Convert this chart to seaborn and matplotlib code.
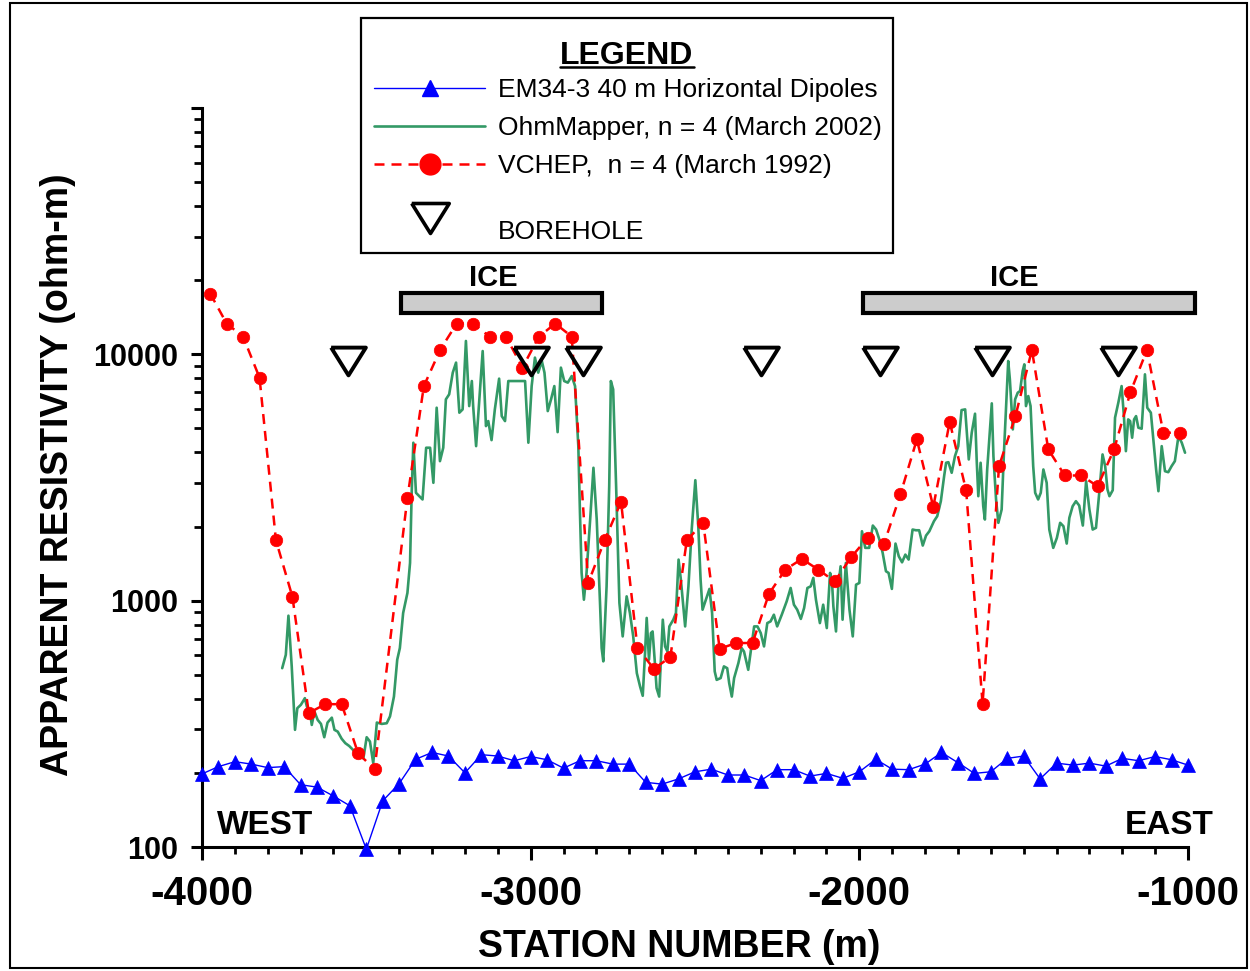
import pandas as pd
import seaborn as sns
import matplotlib.pyplot as plt
import matplotlib.transforms as mtransforms
from matplotlib.lines import Line2D
from matplotlib.patches import Rectangle
from matplotlib.ticker import FixedLocator, LogLocator, MultipleLocator, NullFormatter

# ---- EM34-3 40 m horizontal dipoles
em_station = [-4000, -3950, -3900, -3850, -3800, -3750, -3700, -3650, -3600, -3550,
              -3500, -3450, -3400, -3350, -3300, -3250, -3200, -3150, -3100, -3050,
              -3000, -2950, -2900, -2850, -2800, -2750, -2700, -2650, -2600, -2550,
              -2500, -2450, -2400, -2350, -2300, -2250, -2200, -2150, -2100, -2050,
              -2000, -1950, -1900, -1850, -1800, -1750, -1700, -1650, -1600, -1550,
              -1500, -1450, -1400, -1350, -1300, -1250, -1200, -1150, -1100, -1050, -1000]
em_rho = [198, 212, 222, 217, 210, 212, 179, 175, 161, 147,
          98, 154, 181, 227, 242, 234, 200, 237, 234, 224,
          233, 226, 209, 224, 224, 217, 217, 183, 180, 189,
          202, 207, 196, 196, 186, 206, 206, 194, 199, 190,
          202, 227, 207, 206, 217, 242, 220, 199, 202, 229,
          234, 189, 219, 215, 219, 213, 229, 224, 233, 226, 215]

# ---- OhmMapper, n = 4 (March 2002)
ohm_station = [
    -3756, -3745, -3737, -3727, -3717, -3710, -3699, -3687, -3681, -3671,
    -3666, -3658, -3648, -3638, -3628, -3618, -3605, -3597, -3587, -3575,
    -3564, -3552, -3538, -3524, -3509, -3499, -3489, -3479, -3468, -3453,
    -3438, -3428, -3416, -3406,
    -3398, -3388, -3375, -3367, -3362, -3357, -3349, -3339, -3329, -3318,
    -3306, -3296, -3286, -3276, -3266, -3258, -3248, -3237, -3227, -3217,
    -3207, -3197, -3187, -3179, -3175, -3166, -3156, -3146, -3136, -3129,
    -3119, -3109, -3096, -3088, -3078, -3068, -3017, -3007, -2997, -2987,
    -2977, -2966, -2958, -2948, -2938, -2928, -2918, -2908, -2898, -2887,
    -2875, -2865, -2855, -2850, -2845, -2838, -2830, -2819, -2809, -2799,
    -2789, -2784, -2779, -2769, -2761, -2756, -2749, -2740, -2730, -2720,
    -2708, -2698, -2688, -2677, -2667, -2659, -2652, -2647, -2640, -2634,
    -2629, -2622, -2617, -2609, -2598, -2591, -2584, -2578, -2566, -2558,
    -2550, -2543, -2530, -2520, -2510, -2499, -2490, -2483, -2477, -2467,
    -2456, -2448, -2440, -2434, -2422, -2412, -2402, -2396, -2388, -2381,
    -2368, -2358, -2351, -2338,
    -2320, -2310, -2300, -2290, -2280, -2270, -2260, -2250, -2236, -2221,
    -2209, -2199, -2189, -2178, -2168, -2158, -2148, -2140, -2132, -2120,
    -2110, -2099, -2089, -2083, -2079, -2071, -2064, -2057, -2051, -2041,
    -2030, -2020, -2010, -2000, -1992, -1982, -1970, -1959, -1949, -1939,
    -1929, -1919, -1911, -1901, -1890, -1880, -1870, -1860, -1850, -1838,
    -1828, -1818, -1807, -1797, -1787,
    -1773, -1763, -1752, -1742, -1736, -1729, -1719, -1709, -1699, -1689,
    -1678, -1673, -1667, -1658, -1648, -1643, -1638, -1631, -1623, -1618,
    -1611, -1602, -1597, -1592, -1584, -1577, -1567, -1560, -1552, -1547,
    -1542, -1533, -1526, -1518, -1511, -1503, -1498, -1493, -1486, -1479,
    -1471, -1465, -1456, -1448, -1440, -1430, -1422,
    -1410, -1399, -1389, -1379, -1369, -1361, -1351, -1341, -1331, -1320,
    -1310, -1300, -1290, -1280, -1270, -1260, -1252, -1245, -1239, -1229,
    -1222, -1212, -1202, -1195, -1189, -1182, -1176, -1170, -1164, -1158,
    -1151, -1141, -1131, -1124, -1113, -1103, -1097, -1090, -1080, -1070,
    -1060, -1050, -1040, -1029, -1019, -1009]
ohm_rho = [
    532, 603, 869, 541, 299, 366, 378, 402, 372, 350,
    313, 355, 328, 316, 279, 320, 335, 299, 294, 275,
    264, 257, 246, 239, 229, 279, 268, 219, 320, 316,
    318, 339, 408, 576,
    642, 891, 1075, 1423, 2741, 4377, 2741, 2655, 2575, 4176,
    4176, 3009, 6071, 3684, 4176, 6564, 6877, 8427, 9254, 5794,
    5976, 11330, 6164, 7790, 6164, 4239, 6564, 10310, 5112, 5357,
    4484, 5976, 7966, 5613, 5357, 7790, 7790, 4377, 7431, 9696,
    8427, 9393, 8427, 5883, 6564, 7431, 4832, 8830, 7790, 7674,
    8164, 7431, 4239, 2273, 1296, 1009, 1296, 2135, 3463, 2135,
    979, 642, 567, 1143, 2915, 7790, 7206, 2915, 979, 716,
    1041, 891, 716, 508, 448, 411, 613, 851, 576, 739,
    750, 558, 442, 408, 837, 652, 622, 786, 837, 891,
    1468, 1217, 786, 1143, 1944, 3083, 2005, 1217, 919, 1009,
    1116, 891, 516, 477, 485, 541, 532, 463, 408, 485,
    558, 642, 622, 524,
    786, 786, 739, 652, 811, 824, 877, 786, 877, 994,
    1126, 963, 919, 843, 934, 1126, 1143, 1237, 1009, 811,
    963, 774, 1296, 1180, 948, 750, 1143, 1379, 837, 1423,
    919, 716, 1161, 1180, 1913, 1638, 1638, 2018, 1944, 1770,
    1563, 1316, 1296, 1116, 1705, 1514, 1431, 1538, 1468, 1944,
    1931, 1931, 1674, 1838, 1913,
    2101, 2202, 2534, 3201, 3629, 3649, 3305, 3861, 4239, 5937,
    5976, 4806, 3743, 4806, 5740, 3743, 2655, 3629, 2417, 2135,
    3408, 5112, 6323, 3861, 2575, 2070, 2344, 3986, 6769, 9393,
    7914, 4956, 6564, 6988, 7093, 8554, 9106, 6164, 6769, 6164,
    3515, 2741, 2575, 2741, 3408, 3009, 1944,
    1638, 1798, 2070, 2005, 1705, 2169, 2417, 2534, 2433, 2018,
    3055, 2344, 1944, 1975, 2741, 3923, 3515, 2827, 2655, 2808,
    5530, 6363, 7431, 5613, 4045, 5443, 5357, 4586, 5443, 5613,
    5036, 4989, 8294, 6071, 5794, 4176, 3408, 2782, 4239, 3354,
    3323, 3515, 3684, 4655, 4377, 3986]

# ---- VCHEP, n = 4 (March 1992)
vchep_station = [-3975, -3925, -3875, -3825, -3775, -3725, -3675, -3625, -3575, -3525,
                 -3475, -3375, -3325, -3275, -3225, -3175, -3125, -3075, -3025, -2975,
                 -2925, -2875, -2825, -2775, -2725, -2675, -2625, -2575, -2525, -2475,
                 -2425, -2375, -2325, -2275, -2225, -2175, -2125, -2075, -2025, -1975,
                 -1925, -1875, -1825, -1775, -1725, -1675, -1625, -1575, -1525, -1475,
                 -1425, -1375, -1325, -1275, -1225, -1175, -1125, -1075, -1025]
vchep_rho = [17650, 13330, 11800, 8040, 1758, 1038, 350, 380, 380, 240,
             207, 2615, 7431, 10450, 13330, 13330, 11800, 11800, 8830, 11800,
             13330, 11800, 1180, 1758, 2518, 642, 529, 590, 1758, 2070,
             638, 673, 673, 1066, 1337, 1477, 1337, 1198, 1500, 1798,
             1700, 2700, 4513, 2404, 5317, 2801, 381, 3515, 5614, 10410,
             4110, 3222, 3222, 2914, 4110, 7025, 10410, 4805, 4805]

# boreholes and ice zones
borehole_station = [-3555, -3000, -2840, -2300, -1936, -1596, -1214]
ice_start = [-3395, -1990]
ice_end = [-2782, -980]
ice_label_x = [-3115, -1529]

xtick_vals = [-4000, -3000, -2000, -1000]
xtick_labels = ["-4000", "-3000", "-2000", "-1000"]
ytick_vals = [100, 1000, 10000, 100000]
ytick_labels = ["100", "1000", "10000", ""]

sns.set_style("ticks")
plt.rcParams['font.family'] = ['Liberation Sans', 'DejaVu Sans']
plt.rcParams.update({"text.color": "black", "axes.labelcolor": "black",
                     "xtick.color": "black", "ytick.color": "black",
                     "axes.edgecolor": "black"})

df_em = pd.DataFrame({"station": em_station, "rho": em_rho})
df_ohm = pd.DataFrame({"station": ohm_station, "rho": ohm_rho})
df_vchep = pd.DataFrame({"station": vchep_station, "rho": vchep_rho})

GREEN = "#339966"
DASH = (0, (4, 2.8))

fig = plt.figure(figsize=(12.5, 9.71), dpi=100)
W, H = fig.get_size_inches() * fig.dpi
ax = fig.add_axes([0.1616, 0.1277, 0.7888, 0.7611])
ax.set_yscale("log")

sns.lineplot(data=df_ohm, x="station", y="rho", color=GREEN, lw=1.9,
             estimator=None, errorbar=None, ax=ax, zorder=3)
sns.lineplot(data=df_em, x="station", y="rho", color="blue", lw=1.0,
             marker="^", markersize=10.5, markeredgecolor="blue", markeredgewidth=0.5,
             estimator=None, errorbar=None, ax=ax, zorder=4, clip_on=False)
sns.lineplot(data=df_vchep, x="station", y="rho", color="red", lw=1.8,
             linestyle=DASH, marker="o", markersize=9, markeredgecolor="red",
             markeredgewidth=0.5, estimator=None, errorbar=None, ax=ax, zorder=5)

ax.set_xlim(-4000, -1000)
ax.set_ylim(100, 100000)

# boreholes, ice zones: x in data, y in axes fraction
trans = mtransforms.blended_transform_factory(ax.transData, ax.transAxes)
tri = [(-1, 0.8), (1, 0.8), (0, -0.8), (-1, 0.8)]
ax.plot(borehole_station, [0.657] * len(borehole_station), transform=trans,
        ls="none", marker=tri, ms=25, mfc="none", mec="black", mew=2.8,
        clip_on=False, zorder=6)
for x0, x1, xl in zip(ice_start, ice_end, ice_label_x):
    ax.add_patch(Rectangle((x0, 0.722), x1 - x0, 0.027, transform=trans,
                           facecolor="#cccccc", edgecolor="black", lw=3,
                           clip_on=False, zorder=6))
    ax.text(xl, 0.759, "ICE", transform=trans, ha="center", va="baseline",
            fontsize=21, fontweight="bold")

ax.text(0.015, 0.018, "WEST", transform=ax.transAxes, fontsize=24,
        fontweight="bold", va="baseline", ha="left")
ax.text(1.026, 0.018, "EAST", transform=ax.transAxes, fontsize=24,
        fontweight="bold", va="baseline", ha="right")

# axes styling
for s in ["top", "right"]:
    ax.spines[s].set_visible(False)
for s in ["left", "bottom"]:
    ax.spines[s].set_linewidth(2.2)
    ax.spines[s].set_color("black")

ax.xaxis.set_major_locator(FixedLocator(xtick_vals))
ax.set_xticklabels(xtick_labels)
ax.xaxis.set_minor_locator(MultipleLocator(100))
ax.yaxis.set_major_locator(FixedLocator(ytick_vals))
ax.set_yticklabels(ytick_labels)
ax.yaxis.set_minor_locator(LogLocator(base=10, subs=range(2, 10)))
ax.yaxis.set_minor_formatter(NullFormatter())

ax.tick_params(axis="x", which="major", direction="out", length=9.5, width=2.2,
               labelsize=29, pad=11, bottom=True)
ax.tick_params(axis="x", which="minor", direction="out", length=5, width=2.0, bottom=True)
ax.tick_params(axis="y", which="major", direction="out", length=8, width=2.2,
               labelsize=22, pad=9, left=True)
ax.tick_params(axis="y", which="minor", direction="out", length=5.5, width=2.0, left=True)
for lab in ax.get_xticklabels() + ax.get_yticklabels():
    lab.set_fontweight("bold")

ax.set_xlabel("STATION NUMBER (m)", fontsize=27, fontweight="bold")
ax.set_ylabel("APPARENT RESISTIVITY (ohm-m)", fontsize=27, fontweight="bold")
ax.xaxis.set_label_coords(0.4843, -0.111)
ax.yaxis.set_label_coords(-0.128, 0.5034)

# legend (frame and title drawn separately)
h_em = Line2D([], [], color="blue", lw=1.0, marker="^", ms=12, mec="blue")
h_ohm = Line2D([], [], color=GREEN, lw=1.9)
h_vc = Line2D([], [], color="red", lw=1.8, ls=DASH, marker="o", ms=15, mec="red")
h_bh = Line2D([], [], ls="none", marker=tri, ms=27, mfc="none", mec="black", mew=2.6)
leg = ax.legend([h_em, h_ohm, h_vc, h_bh],
                ["EM34-3 40 m Horizontal Dipoles", "OhmMapper, n = 4 (March 2002)",
                 "VCHEP,  n = 4 (March 1992)", "\nBOREHOLE"],
                loc="upper left", bbox_to_anchor=(361 / W, 1 - 60 / H),
                bbox_transform=fig.transFigure, borderaxespad=0, fontsize=19,
                handlelength=4.2, handletextpad=0.5, borderpad=0.5,
                labelspacing=0.53, numpoints=1, frameon=False)
fig.add_artist(Rectangle((361 / W, 1 - 253 / H), 532 / W, 235 / H,
                         transform=fig.transFigure, fill=False, lw=1.6,
                         edgecolor="black"))
title = fig.text(627 / W, 1 - 64 / H, "LEGEND", fontsize=23, fontweight="bold",
                 ha="center", va="baseline")

# place the first legend row at the reference height, then underline the title
fig.canvas.draw()
t0 = leg.get_texts()[0].get_window_extent()
shift = (H - 90) - (t0.y0 + t0.y1) / 2
leg.set_bbox_to_anchor((361 / W, 1 - 60 / H + shift / H), transform=fig.transFigure)
bb = title.get_window_extent()
uy = (bb.y0 + 4) / H
fig.add_artist(Line2D([bb.x0 / W, bb.x1 / W], [uy, uy], color="black", lw=1.8,
                      transform=fig.transFigure))

# outer frame
fig.add_artist(Rectangle((10 / W, 3 / H), 1237 / W, 965 / H,
                         transform=fig.transFigure, fill=False, lw=1.5,
                         edgecolor="black"))

fig.savefig("out.png", dpi=100)
